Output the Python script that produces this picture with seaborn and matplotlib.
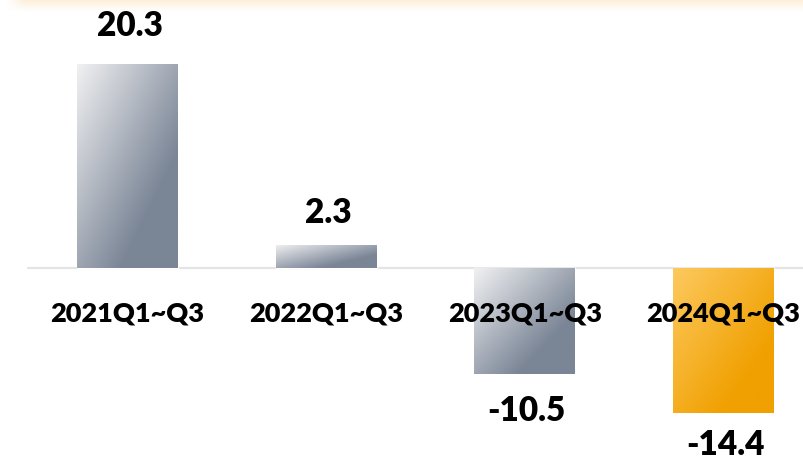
import numpy as np
import pandas as pd
import matplotlib.pyplot as plt
from matplotlib.colors import LinearSegmentedColormap
import seaborn as sns

# chart data
periods = ['2021Q1~Q3', '2022Q1~Q3', '2023Q1~Q3', '2024Q1~Q3']
growth = [20.3, 2.3, -10.5, -14.4]

sns.set_theme(style='white')
plt.rcParams['font.family'] = ['Lato', 'DejaVu Sans']

df = pd.DataFrame({'period': periods, 'growth': growth})

fig = plt.figure(figsize=(8.04, 4.61), dpi=100)
ax = fig.add_axes([0, 0, 1, 1])

base_colors = ['#a3abb8', '#a3abb8', '#a3abb8', '#f5b52e']
sns.barplot(data=df, x='period', y='growth', hue='period', palette=base_colors,
            width=0.508, legend=False, ax=ax, zorder=2)

gray_cmap = LinearSegmentedColormap.from_list(
    'gray_grad', [(0, '#f1f1f2'), (0.72, '#7a8596'), (1, '#7a8596')])
orange_cmap = LinearSegmentedColormap.from_list(
    'orange_grad', [(0, '#fdc95f'), (0.75, '#f0a000'), (1, '#f0a000')])
cmaps = [gray_cmap, gray_cmap, gray_cmap, orange_cmap]

# diagonal gradient fill, light top-left to dark bottom-right
u = np.linspace(0, 1, 128)
grad = (u[None, :] + u[:, None]) / 2
for patch, cmap in zip(ax.patches, cmaps):
    x0, w = patch.get_x(), patch.get_width()
    y0, h = patch.get_y(), patch.get_height()
    ylo, yhi = min(y0, y0 + h), max(y0, y0 + h)
    im = ax.imshow(grad, cmap=cmap, extent=[x0, x0 + w, ylo, yhi], origin='upper',
                   aspect='auto', interpolation='bilinear', zorder=3)
    im.set_clip_path(patch)

# zero line
ax.axhline(0, xmin=28 / 804, xmax=1, color='#e4e4e4', lw=1.6, zorder=1)

# value labels (baseline offset in pixels from bar end)
offsets = [28, 22, -47, -42]
for i, (v, off) in enumerate(zip(growth, offsets)):
    ax.annotate(f'{v:.1f}', xy=(i, v), xytext=(2, off), textcoords='offset pixels',
                ha='center', va='baseline', fontsize=24, fontweight='heavy',
                color='black', zorder=5)

# category labels under the zero line
for i, p in enumerate(periods):
    ax.annotate(p, xy=(i, 0), xytext=(0, -53), textcoords='offset pixels',
                ha='center', va='baseline', fontsize=19.5, fontweight='heavy',
                color='black', zorder=5)

ax.set_xlim(-0.642, 3.405)
ax.set_ylim(-19.2, 26.67)
ax.axis('off')

# soft peach strip at the top edge
strip_h = 16
top = fig.add_axes([0, 1 - strip_h / 461, 1, strip_h / 461])
rgba = np.zeros((strip_h, 804, 4))
rgba[..., 0] = 253 / 255
rgba[..., 1] = 240 / 255
rgba[..., 2] = 218 / 255
va = np.clip(1 - np.arange(strip_h) / 11, 0, 1)
ha = np.clip((np.arange(804) - 6) / 18, 0, 1)
rgba[..., 3] = va[:, None] * ha[None, :]
top.imshow(rgba, aspect='auto', interpolation='bilinear')
top.axis('off')

fig.savefig('out.png', dpi=100)
